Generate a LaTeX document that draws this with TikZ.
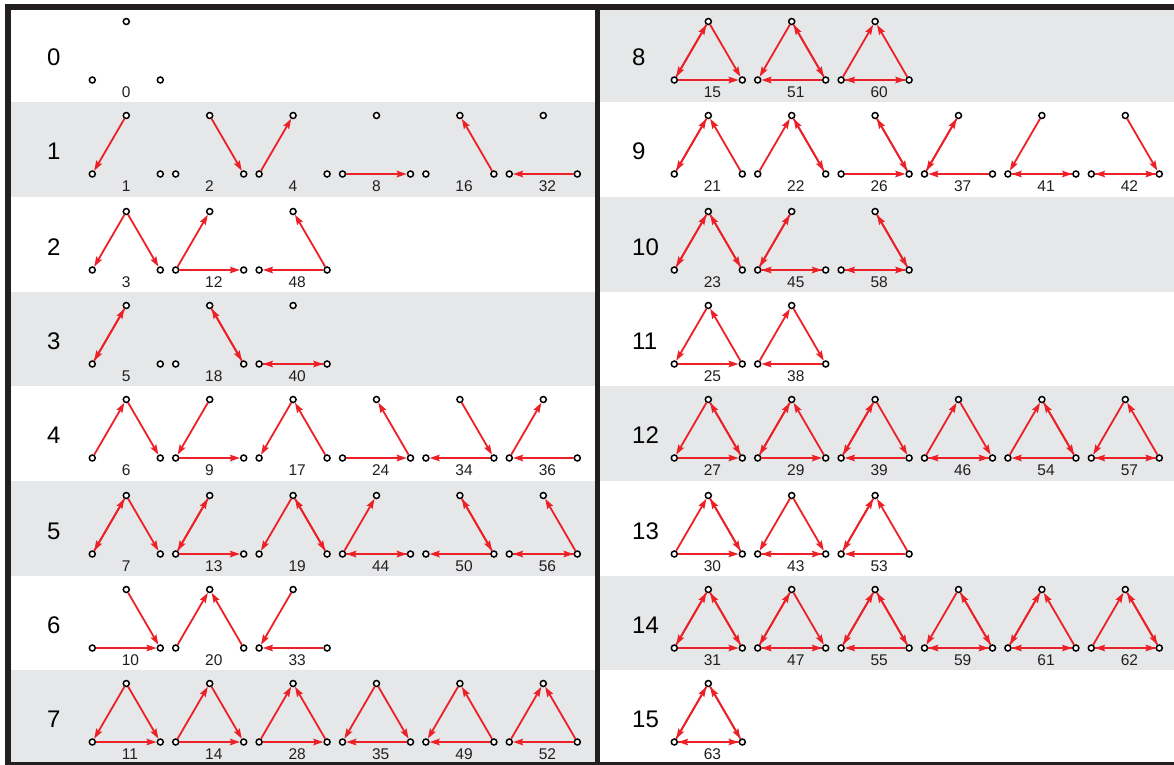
\documentclass[tikz,border=0pt]{standalone}
\usepackage{fontspec}
\setmainfont{Liberation Sans}
\usetikzlibrary{arrows.meta}
\definecolor{edgered}{RGB}{236,32,39}
\definecolor{bandgray}{RGB}{230,231,232}
\definecolor{framedark}{RGB}{35,31,32}

\begin{document}
\begin{tikzpicture}[x=1pt,y=-1pt,
  vtx/.style={circle, draw=black, fill=white, line width=1.5pt, inner sep=0pt, minimum size=6pt},
  arr/.style={draw=edgered, line width=1.8pt, -{Stealth[length=10pt,width=6.5pt,inset=1.5pt]}},
  gid/.style={anchor=west, inner sep=0pt, font=\fontsize{15.5}{18}\selectfont, text=framedark},
  cls/.style={anchor=west, inner sep=0pt, font=\fontsize{24}{28}\selectfont, text=black}
]
  \useasboundingbox (0,0) rectangle (1174,764);
  \clip (0,0) rectangle (1174,764);
  \foreach \r in {1,3,5,7}
    \fill[bandgray] (8,{7.7+94.67*\r}) rectangle (597,{7.7+94.67*(\r+1)});
  \foreach \r in {0,2,4,6}
    \fill[bandgray] (597,{7.7+94.67*\r}) rectangle (1180,{7.7+94.67*(\r+1)});
  \draw[framedark, line width=6pt] (8,7) rectangle (1177,765);
  \draw[framedark, line width=5.5pt] (597.5,7) -- (597.5,766);

  \foreach \c/\lst in {0/{0},1/{1,2,4,8,16,32},2/{3,12,48},3/{5,18,40},
      4/{6,9,17,24,34,36},5/{7,13,19,44,50,56},6/{10,20,33},7/{11,14,28,35,49,52},
      8/{15,51,60},9/{21,22,26,37,41,42},10/{23,45,58},11/{25,38},
      12/{27,29,39,46,54,57},13/{30,43,53},14/{31,47,55,59,61,62},15/{63}} {
    \pgfmathsetmacro\ox{582*floor(\c/8)}
    \pgfmathsetmacro\by{2*round((79.8+94.67*mod(\c,8))/2)}
    \node[cls] (c\c) at ({47+585*floor(\c/8)},\by-22.5) {\c};
    \foreach \n [count=\k from 0] in \lst {
      \pgfmathsetmacro\lx{92.3+\ox+83.4*\k}
      \node[vtx] (l\n) at (\lx,\by) {};
      \node[vtx] (r\n) at (\lx+68,\by) {};
      \node[vtx] (t\n) at (\lx+34,\by-58.5) {};
      \node[gid] (g\n) at (\lx+29.3,\by+12) {\n};
      \foreach \bit/\from/\to in {1/t/l,2/t/r,4/l/t,8/l/r,16/r/t,32/r/l} {
        \pgfmathtruncatemacro\on{mod(floor(\n/\bit),2)}
        \ifnum\on=1 \draw[arr] (\from\n) -- (\to\n); \fi
      }
    }
  }
\end{tikzpicture}
\end{document}
